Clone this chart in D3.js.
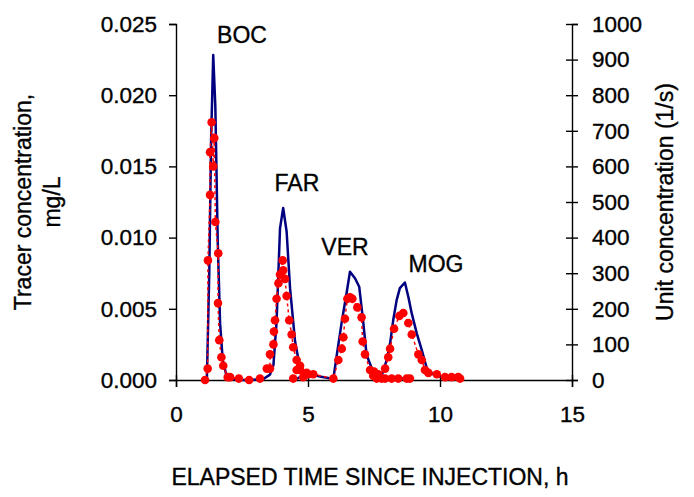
<!DOCTYPE html>
<html lang="en">
<head>
  <meta charset="UTF-8">
  <title>Tracer breakthrough curves</title>
  <script src="https://d3js.org/d3.v7.min.js"></script>
  <style>
    body {
      margin: 0;
      background: #ffffff;
      font-family: "Liberation Sans", Arial, sans-serif;
    }

    .axis path,
    .axis line {
      stroke: #000000;
      stroke-width: 1.4;
    }

    .axis text {
      fill: #000000;
      stroke: #000000;
      stroke-width: 0.35;
      font-size: 22.5px;
      font-family: "Liberation Sans", Arial, sans-serif;
    }

    .title {
      fill: #000000;
      stroke: #000000;
      stroke-width: 0.35;
      font-size: 23px;
    }

    .unit-line {
      fill: none;
      stroke: #000080;
      stroke-width: 2.5;
      stroke-linejoin: round;
    }

    .tracer-line {
      fill: none;
      stroke: #ff0000;
      stroke-width: 1.5;
      stroke-dasharray: 3, 3;
    }

    .tracer-dot {
      fill: #ff0000;
    }
  </style>
</head>
<body>
  <script>
    // sampling stations
    const stations = ["BOC", "FAR", "VER", "MOG"];

    // unit concentration (1/s), [time h, value] -- right axis
    const bocUnit = [[1.10, 0], [1.17, 5], [1.26, 300], [1.33, 674], [1.41, 913], [1.49, 768], [1.58, 393], [1.67, 159], [1.77, 56], [1.89, 19], [2.02, 5], [2.40, 0]];
    const farUnit = [[2.42, 0], [2.80, 0], [3.31, 3], [3.56, 15], [3.69, 42], [3.81, 164], [3.94, 426], [4.06, 483], [4.19, 417], [4.32, 258], [4.51, 108], [4.70, 33], [4.89, 14], [5.20, 9]];
    const verUnit = [[4.50, 0], [4.94, 19], [5.50, 9], [5.96, 3], [6.09, 70], [6.28, 164], [6.47, 248], [6.59, 304], [6.78, 286], [6.94, 262], [7.09, 164], [7.22, 70], [7.41, 34], [7.66, 17], [8.03, 5], [8.30, 2], [8.55, 5], [8.86, 3]];
    const mogUnit = [[7.60, 0], [7.79, 12], [7.98, 56], [8.11, 103], [8.23, 169], [8.36, 225], [8.48, 258], [8.67, 274], [8.80, 234], [8.93, 187], [9.12, 131], [9.31, 84], [9.50, 33], [9.69, 19], [9.87, 9], [10.12, 11], [10.38, 7], [10.63, 2]];

    // measured tracer concentration (mg/L), [time h, value] -- left axis
    const bocTracer = [[1.10, 0], [1.20, 0.0008], [1.21, 0.0084], [1.29, 0.0130], [1.29, 0.0160], [1.35, 0.0181], [1.41, 0.0150], [1.45, 0.0170], [1.49, 0.0111], [1.60, 0.0089], [1.59, 0.0054], [1.64, 0.0028], [1.72, 0.0016], [1.79, 0.0010], [1.96, 0.0002], [2.05, 0.0002], [2.38, 0.0001], [2.77, 0], [3.18, 0.0001]];
    const farTracer = [[3.44, 0.0008], [3.56, 0.0008], [3.56, 0.0018], [3.69, 0.0025], [3.71, 0.0034], [3.75, 0.0042], [3.81, 0.0057], [3.88, 0.0068], [3.94, 0.0074], [4.04, 0.0084], [4.06, 0.0077], [4.13, 0.0071], [4.19, 0.0059], [4.29, 0.0042], [4.38, 0.0032], [4.44, 0.0023], [4.57, 0.0014], [4.70, 0.0007], [4.82, 0.0002], [5.01, 0.0004]];
    const verTracer = [[4.44, 0.0001], [4.57, 0.0007], [4.70, 0.0010], [4.95, 0.0005], [5.20, 0.0004], [5.96, 0.0001], [6.15, 0.0014], [6.28, 0.0022], [6.34, 0.0030], [6.40, 0.0043], [6.49, 0.0057], [6.59, 0.0058], [6.68, 0.0057], [6.87, 0.0051], [7.03, 0.0044], [7.07, 0.0027], [7.16, 0.0018], [7.35, 0.0007], [7.50, 0.0006], [7.66, 0.0004], [7.79, 0.0001], [7.92, 0.0001], [8.17, 0.0001], [8.42, 0.0001], [8.74, 0.0001], [8.86, 0.0001]];
    const mogTracer = [[7.47, 0.0003], [7.60, 0.0001], [7.92, 0.0008], [8.04, 0.0016], [8.11, 0.0022], [8.26, 0.0036], [8.46, 0.0045], [8.61, 0.0047], [8.80, 0.0040], [8.93, 0.0032], [9.18, 0.0018], [9.31, 0.0014], [9.43, 0.0007], [9.56, 0.0005], [9.88, 0.0004], [10.19, 0.0002], [10.44, 0.0002], [10.69, 0.0002], [10.76, 0.0001]];

    // station label anchors in data units [time h, mg/L]
    const labelAt = [[2.5, 0.0237], [4.58, 0.0133], [6.4, 0.0088], [9.85, 0.0076]];

    // tick values
    const xTicks = [0, 5, 10, 15];
    const leftTicks = [0, 0.005, 0.010, 0.015, 0.020, 0.025];
    const rightTicks = [0, 100, 200, 300, 400, 500, 600, 700, 800, 900, 1000];

    const unitSeries = [bocUnit, farUnit, verUnit, mogUnit];
    const tracerSeries = [bocTracer, farTracer, verTracer, mogTracer];

    const W = 694, H = 497;
    const margin = {top: 24, right: 122, bottom: 117, left: 176};
    const width = W - margin.left - margin.right,
      height = H - margin.top - margin.bottom;

    const svg = d3.select("body").append("svg")
      .attr("width", W)
      .attr("height", H)
      .append("g")
      .attr("transform", "translate(" + margin.left + "," + margin.top + ")");

    const x = d3.scaleLinear().domain([0, 15]).range([0, width]);
    const yL = d3.scaleLinear().domain([0, 0.025]).range([height, 0]);
    const yR = d3.scaleLinear().domain([0, 1000]).range([height, 0]);

    // axes
    const gx = svg.append("g")
      .attr("class", "axis")
      .attr("transform", "translate(0," + height + ")")
      .call(d3.axisBottom(x).tickValues(xTicks).tickSizeOuter(0).tickSize(7).tickPadding(19));
    gx.selectAll(".tick line").attr("y1", -5);

    svg.append("g")
      .attr("class", "axis")
      .call(d3.axisLeft(yL).tickValues(leftTicks).tickFormat(d3.format(".3f"))
        .tickSizeOuter(0).tickSize(7).tickPadding(12));

    const gr = svg.append("g")
      .attr("class", "axis")
      .attr("transform", "translate(" + width + ",0)")
      .call(d3.axisRight(yR).tickValues(rightTicks).tickFormat(d3.format("d"))
        .tickSizeOuter(0).tickSize(6).tickPadding(14));
    gr.selectAll(".tick line").attr("x1", -6);

    // unit concentration curves
    const unitLine = d3.line()
      .x(d => x(d[0]))
      .y(d => yR(d[1]));

    svg.selectAll(".unit-line")
      .data(unitSeries)
      .enter().append("path")
      .attr("class", "unit-line")
      .attr("d", unitLine);

    // measured tracer
    const tracerLine = d3.line()
      .x(d => x(d[0]))
      .y(d => yL(d[1]));

    svg.selectAll(".tracer-line")
      .data(tracerSeries)
      .enter().append("path")
      .attr("class", "tracer-line")
      .attr("d", tracerLine);

    svg.selectAll(".tracer-dot")
      .data(tracerSeries.flat())
      .enter().append("circle")
      .attr("class", "tracer-dot")
      .attr("r", 4.3)
      .attr("cx", d => x(d[0]))
      .attr("cy", d => yL(d[1]));

    // station labels
    svg.selectAll(".station")
      .data(stations)
      .enter().append("text")
      .attr("class", "title")
      .attr("text-anchor", "middle")
      .attr("x", (d, i) => x(labelAt[i][0]))
      .attr("y", (d, i) => yL(labelAt[i][1]))
      .text(d => d);

    // axis titles
    svg.append("text")
      .attr("class", "title")
      .attr("x", 370 - margin.left)
      .attr("y", 485 - margin.top)
      .attr("text-anchor", "middle")
      .text("ELAPSED TIME SINCE INJECTION, h");

    const leftTitle = svg.append("text")
      .attr("class", "title")
      .attr("transform", "rotate(-90)")
      .attr("text-anchor", "middle");
    leftTitle.append("tspan")
      .attr("x", -height / 2)
      .attr("y", 31 - margin.left)
      .text("Tracer concentration,");
    leftTitle.append("tspan")
      .attr("x", -height / 2)
      .attr("y", 60 - margin.left)
      .text("mg/L");

    svg.append("text")
      .attr("class", "title")
      .attr("transform", "rotate(-90)")
      .attr("x", -height / 2)
      .attr("y", 673 - margin.left)
      .attr("text-anchor", "middle")
      .text("Unit concentration (1/s)");
  </script>
</body>
</html>
